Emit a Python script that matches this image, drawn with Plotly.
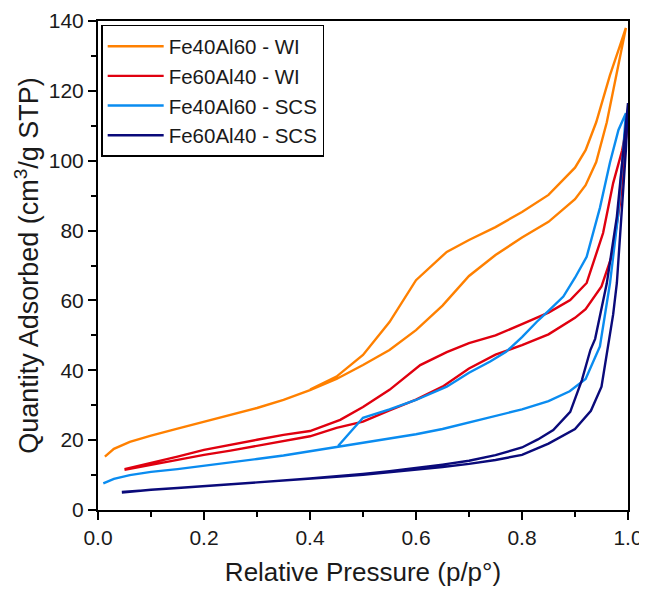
import plotly.graph_objects as go

# Fe40Al60 - WI
wi4060_ads_x = [0.013, 0.03, 0.06, 0.1, 0.15, 0.2, 0.25, 0.3, 0.35, 0.4, 0.45, 0.5, 0.55, 0.6, 0.65, 0.7, 0.75, 0.8, 0.85, 0.88, 0.9, 0.92, 0.94, 0.96, 0.975, 0.99, 0.996]
wi4060_ads_y = [15.3, 17.5, 19.5, 21.3, 23.3, 25.3, 27.2, 29.2, 31.5, 34.3, 37.5, 41.5, 45.8, 51.5, 58.5, 67, 73, 78, 82.5, 86.5, 89, 93, 99.6, 111, 122.5, 134, 138]
wi4060_des_x = [0.996, 0.985, 0.966, 0.94, 0.92, 0.9, 0.85, 0.8, 0.75, 0.7, 0.658, 0.6, 0.55, 0.5, 0.45, 0.4]
wi4060_des_y = [138, 133, 124.5, 111, 103, 98, 90.2, 85.3, 81, 77.3, 73.9, 65.8, 53.8, 44.4, 38.2, 34.5]

# Fe60Al40 - WI
wi6040_ads_x = [0.05, 0.1, 0.15, 0.2, 0.25, 0.3, 0.35, 0.4, 0.45, 0.5, 0.55, 0.6, 0.65, 0.7, 0.75, 0.8, 0.85, 0.9, 0.92, 0.95, 0.97, 0.985, 0.994, 1.0]
wi6040_ads_y = [11.5, 13.0, 14.5, 15.8, 17.0, 18.3, 19.7, 21.1, 23.5, 25.3, 28.5, 31.6, 35.3, 40.5, 44.5, 47.2, 50.3, 55, 57.5, 64, 73, 88, 103, 112]
wi6040_des_x = [1.0, 0.989, 0.972, 0.953, 0.922, 0.891, 0.85, 0.8, 0.75, 0.7, 0.658, 0.608, 0.58, 0.55, 0.5, 0.457, 0.4, 0.35, 0.3, 0.25, 0.2, 0.15, 0.1, 0.05]
wi6040_des_y = [112, 103, 93.6, 79.3, 65, 60.1, 56.5, 53.2, 50, 47.8, 45.2, 41.5, 38, 34.4, 29.5, 25.8, 22.6, 21.5, 20.1, 18.7, 17.2, 15.3, 13.5, 11.7]

# Fe40Al60 - SCS
scs4060_ads_x = [0.01, 0.03, 0.06, 0.1, 0.15, 0.2, 0.25, 0.3, 0.35, 0.4, 0.45, 0.5, 0.55, 0.6, 0.65, 0.7, 0.75, 0.8, 0.85, 0.89, 0.92, 0.947, 0.966, 0.981, 0.991, 0.996]
scs4060_ads_y = [7.6, 8.9, 10.0, 10.9, 11.7, 12.6, 13.6, 14.6, 15.6, 16.8, 17.9, 19.1, 20.3, 21.7, 23.2, 25.0, 26.8, 28.8, 31.2, 34.0, 37.5, 46.8, 64.9, 84, 103, 113.6]
scs4060_des_x = [0.996, 0.982, 0.966, 0.947, 0.922, 0.9, 0.878, 0.85, 0.828, 0.8, 0.77, 0.74, 0.7, 0.658, 0.6, 0.55, 0.5, 0.453]
scs4060_des_y = [113.6, 108.8, 99.5, 86.5, 72.5, 66.5, 61.1, 57, 53.9, 49.5, 45.3, 42.5, 39.3, 35.3, 31.5, 28.8, 26.4, 18.3]

# Fe60Al40 - SCS
scs6040_ads_x = [0.045, 0.1, 0.15, 0.2, 0.25, 0.3, 0.35, 0.4, 0.45, 0.5, 0.55, 0.6, 0.65, 0.7, 0.75, 0.8, 0.85, 0.9, 0.93, 0.95, 0.962, 0.972, 0.979, 0.988, 0.996, 1.0]
scs6040_ads_y = [5.0, 5.8, 6.3, 6.8, 7.3, 7.8, 8.3, 8.9, 9.5, 10.1, 10.8, 11.5, 12.3, 13.2, 14.3, 15.8, 19.0, 23.2, 28.4, 35.3, 46.8, 56, 65, 84, 103, 116.5]
scs6040_des_x = [1.0, 0.991, 0.979, 0.96, 0.938, 0.929, 0.913, 0.891, 0.859, 0.83, 0.8, 0.75, 0.7, 0.65, 0.6, 0.55, 0.5, 0.45, 0.4, 0.3, 0.2, 0.1, 0.045]
scs6040_des_y = [116.5, 103, 84, 64.9, 49, 45.8, 37.2, 28.1, 22.9, 20.2, 17.9, 15.7, 14.1, 13.0, 12.0, 11.1, 10.3, 9.6, 9.0, 7.9, 6.9, 5.9, 5.2]

names = ["Fe40Al60 - WI", "Fe60Al40 - WI", "Fe40Al60 - SCS", "Fe60Al40 - SCS"]
colors = ["#FF8000", "#E0000F", "#0A8CF0", "#0A0A7A"]

series = [
    (wi4060_ads_x + wi4060_des_x, wi4060_ads_y + wi4060_des_y),
    (wi6040_ads_x + wi6040_des_x, wi6040_ads_y + wi6040_des_y),
    (scs4060_ads_x + scs4060_des_x, scs4060_ads_y + scs4060_des_y),
    (scs6040_ads_x + scs6040_des_x, scs6040_ads_y + scs6040_des_y),
]

fig = go.Figure()
for (xs, ys), name, color in zip(series, names, colors):
    fig.add_trace(go.Scatter(x=xs, y=ys, mode="lines", name=name,
                             line=dict(color=color, width=2.4)))

font_family = "Arial, Liberation Sans, sans-serif"
fig.update_layout(
    width=647, height=591,
    margin=dict(l=90, r=27, t=13, b=89),
    paper_bgcolor="white", plot_bgcolor="white",
    font=dict(family=font_family, color="#1a1a1a"),
    legend=dict(x=0.006, y=0.992, xanchor="left", yanchor="top",
                bordercolor="black", borderwidth=1.5, bgcolor="white",
                font=dict(size=20.5, family=font_family, color="#1a1a1a"),
                tracegroupgap=0, itemwidth=56),
)
fig.update_xaxes(
    range=[0, 1.0], dtick=0.2, tickformat=".1f", automargin=False,
    showline=True, linecolor="black", linewidth=2, mirror=True,
    ticks="outside", ticklen=8, tickwidth=1.5, tickcolor="black",
    minor=dict(ticks="outside", dtick=0.1, ticklen=5, tickwidth=1.5, tickcolor="black"),
    showgrid=False, zeroline=False,
    tickfont=dict(size=21),
    title=dict(text="Relative Pressure (p/p°)", font=dict(size=26), standoff=15),
)
fig.update_yaxes(
    range=[0, 140], dtick=20, automargin=False,
    showline=True, linecolor="black", linewidth=2, mirror=True,
    ticks="outside", ticklen=8, tickwidth=1.5, tickcolor="black",
    minor=dict(ticks="outside", dtick=10, ticklen=5, tickwidth=1.5, tickcolor="black"),
    showgrid=False, zeroline=False,
    tickfont=dict(size=21),
    title=dict(text="Quantity Adsorbed (cm<sup>3</sup>/g STP)", font=dict(size=27), standoff=2),
)

fig.write_html("out.html")
